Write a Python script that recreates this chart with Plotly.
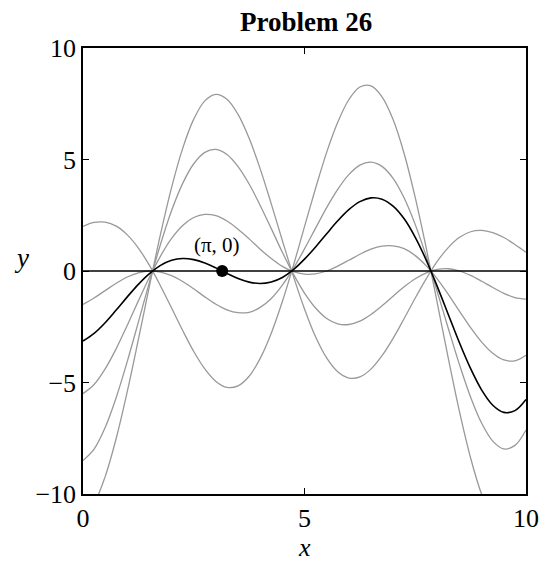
import plotly.graph_objects as go

# sample points along x
x = [0, 0.25, 0.5, 0.75, 1.0, 1.25, 1.5, 1.75, 2.0, 2.25, 2.5, 2.75, 3.0, 3.25, 3.5, 3.75,
     4.0, 4.25, 4.5, 4.75, 5.0, 5.25, 5.5, 5.75, 6.0, 6.25, 6.5, 6.75, 7.0, 7.25, 7.5, 7.75,
     8.0, 8.25, 8.5, 8.75, 9.0, 9.25, 9.5, 9.75, 10.0]

# grey family of curves
y_g1 = [2.0, 2.18, 2.19, 2.01, 1.62, 1.03, 0.25, -0.67, -1.66, -2.67, -3.61, -4.39, -4.95, -5.22,
        -5.15, -4.72, -3.92, -2.79, -1.37, 0.25, 1.99, 3.71, 5.32, 6.67, 7.68, 8.25, 8.30, 7.81,
        6.79, 5.26, 3.29, 1.01, -1.46, -3.95, -6.32, -8.39, -10.02, -11.08, -11.47, -11.13, -10.07]
y_g2 = [-1.5, -1.21, -0.88, -0.55, -0.27, -0.08, 0.0, -0.05, -0.21, -0.47, -0.80, -1.16, -1.49,
        -1.74, -1.87, -1.85, -1.63, -1.23, -0.63, 0.12, 0.99, 1.92, 2.84, 3.66, 4.32, 4.75, 4.88,
        4.69, 4.15, 3.27, 2.08, 0.65, -0.95, -2.60, -4.21, -5.66, -6.83, -7.63, -7.98, -7.82, -7.13]
y_g3 = [-5.5, -5.09, -4.39, -3.48, -2.43, -1.34, -0.28, 0.67, 1.46, 2.04, 2.40, 2.54, 2.48, 2.24,
        1.87, 1.44, 0.98, 0.56, 0.21, -0.03, -0.14, -0.13, 0.0, 0.22, 0.48, 0.75, 0.98, 1.12,
        1.13, 1.00, 0.69, 0.23, -0.36, -1.06, -1.81, -2.54, -3.19, -3.69, -3.99, -4.03, -3.78]
y_g4 = [-8.5, -7.99, -7.02, -5.67, -4.05, -2.29, -0.50, 1.20, 2.71, 3.93, 4.81, 5.32, 5.45, 5.22,
        4.68, 3.90, 2.94, 1.90, 0.84, -0.14, -0.99, -1.66, -2.13, -2.37, -2.40, -2.25, -1.95,
        -1.56, -1.13, -0.71, -0.35, -0.08, 0.07, 0.10, 0.0, -0.20, -0.46, -0.74, -1.00, -1.19, -1.26]
y_g5 = [-11.0, -10.42, -9.22, -7.50, -5.40, -3.07, -0.67, 1.65, 3.75, 5.50, 6.81, 7.63, 7.92,
        7.70, 7.02, 5.95, 4.58, 3.01, 1.37, -0.24, -1.70, -2.95, -3.90, -4.52, -4.80, -4.75,
        -4.40, -3.80, -3.02, -2.13, -1.21, -0.34, 0.44, 1.06, 1.51, 1.76, 1.82, 1.72, 1.50, 1.19, 0.84]
greys = [y_g1, y_g2, y_g3, y_g4, y_g5]

# black curve through (pi, 0)
y_black = [-3.14, -2.80, -2.32, -1.75, -1.16, -0.60, -0.12, 0.25, 0.48, 0.56, 0.51, 0.36, 0.14,
           -0.11, -0.34, -0.50, -0.56, -0.49, -0.29, 0.06, 0.53, 1.08, 1.67, 2.25, 2.75, 3.11,
           3.28, 3.22, 2.91, 2.34, 1.51, 0.48, -0.71, -1.97, -3.23, -4.38, -5.34, -6.02, -6.34,
           -6.26, -5.76]

pt_x = [3.14159]
pt_y = [0]

serif = "Liberation Serif"

fig = go.Figure()

for g in greys:
    fig.add_trace(go.Scatter(x=x, y=g, mode='lines', line_shape='spline',
                             line=dict(color='#999999', width=1.3), hoverinfo='skip'))

fig.add_trace(go.Scatter(x=[0, 10], y=[0, 0], mode='lines',
                         line=dict(color='black', width=1.3)))
fig.add_trace(go.Scatter(x=x, y=y_black, mode='lines', line_shape='spline',
                         line=dict(color='black', width=1.6)))
fig.add_trace(go.Scatter(x=pt_x, y=pt_y, mode='markers',
                         marker=dict(color='black', size=12)))

fig.add_annotation(x=3.03, y=1.17, text="(π, 0)", showarrow=False,
                   font=dict(family=serif, size=21, color='black'))
fig.add_annotation(x=0.5, y=-0.12, xref='paper', yref='paper', text="<i>x</i>",
                   xanchor='center', yanchor='middle',
                   showarrow=False, font=dict(family=serif, size=26, color='black'))
fig.add_annotation(x=-0.138, y=0.53, xref='paper', yref='paper', text="<i>y</i>",
                   xanchor='center', yanchor='middle',
                   showarrow=False, font=dict(family=serif, size=27, color='black'))

axis_style = dict(showgrid=False, zeroline=False, showline=True, linecolor='black',
                  linewidth=1.5, mirror='ticks', ticks='inside', ticklen=6,
                  tickcolor='black', tickwidth=1,
                  tickfont=dict(family=serif, size=26, color='black'))

fig.update_xaxes(range=[0, 10], tickvals=[0, 5, 10], **axis_style)
fig.update_yaxes(range=[-10, 10], tickvals=[-10, -5, 0, 5, 10], **axis_style)

# page body adds an 8px offset, so the figure is 8px smaller
fig.update_layout(
    width=543, height=553,
    margin=dict(l=75, r=22, t=40, b=67),
    paper_bgcolor='white', plot_bgcolor='white',
    showlegend=False,
    title=dict(text="<b>Problem 26</b>", x=0.549, xanchor='center',
               y=0.976, yanchor='middle',
               font=dict(family=serif, size=27, color='black')),
)

fig.write_html("out.html")
